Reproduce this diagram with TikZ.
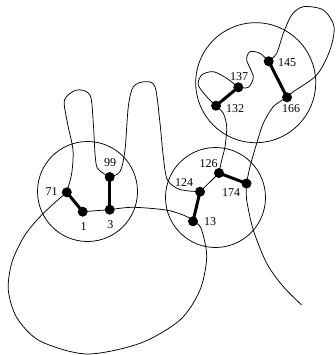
\documentclass[tikz,border=0pt]{standalone}
\usepackage{fontspec}
\setmainfont{Liberation Serif}
\begin{document}
\begin{tikzpicture}[x=1pt,y=-1pt,
  dot/.style={circle,fill=black,inner sep=0pt,minimum size=10pt},
  lbl/.style={inner sep=0pt,font=\fontsize{12}{14}\selectfont},
  chain/.style={line width=0.75pt},
  bond/.style={line width=3pt},
  dom/.style={draw,circle,line width=0.75pt,inner sep=0pt}]
\useasboundingbox (0,0) rectangle (335,355);
% domains
\node[dom,minimum size=100pt] (A) at (87.5,191.5) {};
\node[dom,minimum size=100pt] (B) at (215.5,197.5) {};
\node[dom,minimum size=120pt] (C) at (255.7,82.7) {};
% residues
\node[dot] (n1) at (82.7,211.7) {};
\node[dot] (n3) at (109.7,209.7) {};
\node[dot] (n13) at (193,221.3) {};
\node[dot] (n71) at (66.8,192.3) {};
\node[dot] (n99) at (109.7,177) {};
\node[dot] (n124) at (200,191.7) {};
\node[dot] (n126) at (219,173) {};
\node[dot] (n132) at (216,105.7) {};
\node[dot] (n137) at (238.3,87.3) {};
\node[dot] (n145) at (268.7,61.3) {};
\node[dot] (n166) at (287,97.3) {};
\node[dot] (n174) at (246.5,183.5) {};
\coordinate (e) at (301.7,305);
% labels
\node[lbl] (t71) at (51.5,192) {71};
\node[lbl] (t1) at (83.5,227) {1};
\node[lbl] (t3) at (110.3,225) {3};
\node[lbl] (t99) at (110,162.5) {99};
\node[lbl] (t13) at (210,221.5) {13};
\node[lbl] (t124) at (184,182.3) {124};
\node[lbl] (t126) at (208.5,163.3) {126};
\node[lbl] (t174) at (231,192.7) {174};
\node[lbl] (t132) at (235,108.8) {132};
\node[lbl] (t137) at (239,76.5) {137};
\node[lbl] (t145) at (287,63) {145};
\node[lbl] (t166) at (291,108.7) {166};
% chain
\draw[chain] (n1.center) -- (n3.center);
\draw[chain] plot[smooth] coordinates {(n3.center) (133,207.3) (167,210.2) (186.7,216.5) (n13.center)};
\draw[chain] plot[smooth] coordinates {(n13.center) (201,228) (206.7,256.7) (200,290) (180,320) (140,343.3) (86.7,354) (40,341) (17,318) (8.3,290) (12,262) (25,235) (43.3,213.3) (n71.center)};
\draw[chain] plot[smooth] coordinates {(n71.center) (71.7,173.3) (73,150) (67.5,123.3) (64.5,100) (76.7,90) (90,95) (93.3,123.3) (95,153.3) (97,167.5) (103.3,173.3) (n99.center)};
\draw[chain] plot[smooth] coordinates {(n99.center) (120,171.7) (125,150) (128.3,106.7) (133.3,86.7) (145,81.7) (155,86.7) (160,123.3) (163.3,156.7) (167.5,180) (180,189.5) (n124.center)};
\draw[chain] plot[smooth] coordinates {(n124.center) (211,181) (n126.center)};
\draw[chain] plot[smooth] coordinates {(n126.center) (221.7,160) (225,146.7) (226.7,126.7) (223.3,113.3) (n132.center)};
\draw[chain] plot[smooth] coordinates {(n132.center) (206.7,96.7) (198.3,85) (201.7,75) (213.3,71.7) (226.7,78.3) (n137.center)};
\draw[chain] plot[smooth] coordinates {(n137.center) (248.3,87.3) (253.3,76.7) (246.7,60) (250,51.7) (260,53.3) (n145.center)};
\draw[chain] plot[smooth] coordinates {(n145.center) (276.7,53.3) (283.3,33.3) (291.7,15) (303.3,6.7) (323.3,10) (334,26.7) (330,50) (316.7,75) (293.3,91.7) (n166.center)};
\draw[chain] plot[smooth] coordinates {(n166.center) (273.3,106.7) (263.3,123.3) (256.7,143.3) (250,166.7) (n174.center)};
\draw[chain] plot[smooth] coordinates {(n174.center) (246.7,200) (253.3,230) (266.7,263.3) (283.3,286.7) (e)};
% bonds
\draw[bond] (n71.center) -- (n1.center);
\draw[bond] (n99.center) -- (n3.center);
\draw[bond] (n124.center) -- (n13.center);
\draw[bond] (n126.center) -- (n174.center);
\draw[bond] (n132.center) -- (n137.center);
\draw[bond] (n145.center) -- (n166.center);
\end{tikzpicture}
\end{document}
